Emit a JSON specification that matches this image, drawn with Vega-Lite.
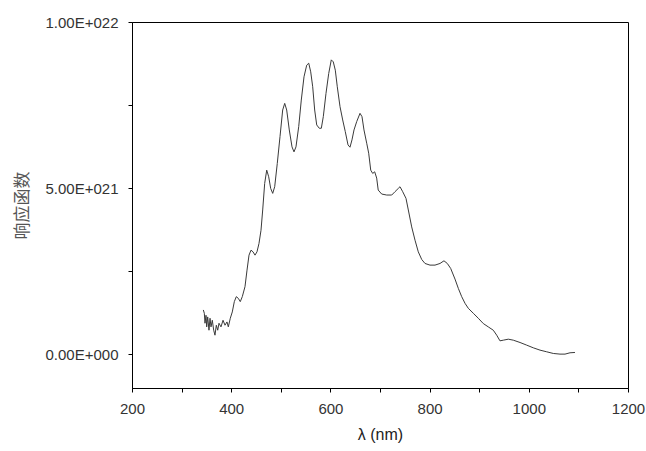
{
  "$schema": "https://vega.github.io/schema/vega-lite/v6.json",
  "width": 496,
  "height": 366,
  "autosize": {"type": "none"},
  "padding": {"left": 132, "top": 22, "right": 18, "bottom": 63},
  "background": "#ffffff",
  "config": {
    "view": {"stroke": "#000000", "strokeWidth": 1},
    "font": "Liberation Sans",
    "axis": {
      "domainColor": "#000000",
      "tickColor": "#000000",
      "tickSize": 4,
      "grid": false,
      "labelFont": "Liberation Sans",
      "labelFontSize": 15,
      "labelColor": "#333333",
      "titleFont": "Liberation Sans",
      "titleFontWeight": "normal"
    }
  },
  "data": {
    "values": [
      {"wavelength": 343.8, "response": 1.33e21},
      {"wavelength": 345.8, "response": 1.23e21},
      {"wavelength": 347.2, "response": 0.93e21},
      {"wavelength": 349.2, "response": 1.17e21},
      {"wavelength": 350.6, "response": 0.82e21},
      {"wavelength": 352.6, "response": 1.12e21},
      {"wavelength": 355.2, "response": 0.72e21},
      {"wavelength": 357.3, "response": 1.08e21},
      {"wavelength": 359.3, "response": 0.82e21},
      {"wavelength": 361.9, "response": 1.02e21},
      {"wavelength": 364.7, "response": 0.72e21},
      {"wavelength": 367.3, "response": 0.57e21},
      {"wavelength": 370.0, "response": 0.87e21},
      {"wavelength": 372.8, "response": 0.72e21},
      {"wavelength": 375.4, "response": 0.93e21},
      {"wavelength": 379.4, "response": 0.82e21},
      {"wavelength": 383.5, "response": 1.02e21},
      {"wavelength": 387.5, "response": 0.87e21},
      {"wavelength": 391.5, "response": 0.97e21},
      {"wavelength": 394.2, "response": 0.82e21},
      {"wavelength": 398.2, "response": 1.08e21},
      {"wavelength": 402.2, "response": 1.27e21},
      {"wavelength": 406.3, "response": 1.58e21},
      {"wavelength": 410.3, "response": 1.73e21},
      {"wavelength": 414.3, "response": 1.68e21},
      {"wavelength": 418.3, "response": 1.58e21},
      {"wavelength": 422.4, "response": 1.73e21},
      {"wavelength": 427.8, "response": 2.03e21},
      {"wavelength": 431.9, "response": 2.53e21},
      {"wavelength": 435.9, "response": 2.98e21},
      {"wavelength": 439.9, "response": 3.13e21},
      {"wavelength": 444.0, "response": 3.08e21},
      {"wavelength": 448.0, "response": 2.98e21},
      {"wavelength": 452.0, "response": 3.08e21},
      {"wavelength": 456.0, "response": 3.33e21},
      {"wavelength": 460.1, "response": 3.73e21},
      {"wavelength": 463.5, "response": 4.34e21},
      {"wavelength": 467.5, "response": 5.14e21},
      {"wavelength": 471.6, "response": 5.54e21},
      {"wavelength": 475.6, "response": 5.34e21},
      {"wavelength": 479.6, "response": 4.99e21},
      {"wavelength": 483.7, "response": 4.84e21},
      {"wavelength": 487.7, "response": 5.04e21},
      {"wavelength": 492.9, "response": 5.74e21},
      {"wavelength": 498.4, "response": 6.55e21},
      {"wavelength": 503.8, "response": 7.35e21},
      {"wavelength": 507.9, "response": 7.55e21},
      {"wavelength": 511.9, "response": 7.35e21},
      {"wavelength": 517.1, "response": 6.75e21},
      {"wavelength": 522.6, "response": 6.24e21},
      {"wavelength": 526.6, "response": 6.09e21},
      {"wavelength": 530.6, "response": 6.24e21},
      {"wavelength": 536.1, "response": 6.85e21},
      {"wavelength": 541.3, "response": 7.65e21},
      {"wavelength": 546.8, "response": 8.35e21},
      {"wavelength": 552.2, "response": 8.70e21},
      {"wavelength": 556.3, "response": 8.76e21},
      {"wavelength": 560.3, "response": 8.50e21},
      {"wavelength": 564.3, "response": 8.05e21},
      {"wavelength": 568.3, "response": 7.35e21},
      {"wavelength": 572.4, "response": 6.90e21},
      {"wavelength": 577.6, "response": 6.80e21},
      {"wavelength": 581.7, "response": 6.80e21},
      {"wavelength": 585.7, "response": 7.15e21},
      {"wavelength": 591.1, "response": 7.85e21},
      {"wavelength": 596.6, "response": 8.45e21},
      {"wavelength": 601.8, "response": 8.86e21},
      {"wavelength": 605.8, "response": 8.80e21},
      {"wavelength": 609.9, "response": 8.55e21},
      {"wavelength": 613.9, "response": 8.05e21},
      {"wavelength": 619.4, "response": 7.45e21},
      {"wavelength": 624.8, "response": 7.05e21},
      {"wavelength": 630.0, "response": 6.70e21},
      {"wavelength": 635.5, "response": 6.30e21},
      {"wavelength": 639.5, "response": 6.23e21},
      {"wavelength": 643.5, "response": 6.45e21},
      {"wavelength": 647.6, "response": 6.75e21},
      {"wavelength": 653.0, "response": 7.00e21},
      {"wavelength": 659.7, "response": 7.25e21},
      {"wavelength": 663.7, "response": 7.15e21},
      {"wavelength": 667.7, "response": 6.75e21},
      {"wavelength": 673.2, "response": 6.35e21},
      {"wavelength": 677.2, "response": 6.05e21},
      {"wavelength": 681.3, "response": 5.54e21},
      {"wavelength": 685.3, "response": 5.44e21},
      {"wavelength": 689.3, "response": 5.49e21},
      {"wavelength": 693.3, "response": 5.30e21},
      {"wavelength": 696.4, "response": 4.94e21},
      {"wavelength": 703.4, "response": 4.82e21},
      {"wavelength": 713.5, "response": 4.79e21},
      {"wavelength": 723.6, "response": 4.79e21},
      {"wavelength": 730.2, "response": 4.89e21},
      {"wavelength": 736.9, "response": 4.99e21},
      {"wavelength": 740.3, "response": 5.04e21},
      {"wavelength": 745.8, "response": 4.89e21},
      {"wavelength": 752.4, "response": 4.69e21},
      {"wavelength": 757.1, "response": 4.34e21},
      {"wavelength": 763.9, "response": 3.83e21},
      {"wavelength": 770.6, "response": 3.43e21},
      {"wavelength": 777.2, "response": 3.08e21},
      {"wavelength": 784.1, "response": 2.85e21},
      {"wavelength": 790.7, "response": 2.73e21},
      {"wavelength": 800.8, "response": 2.68e21},
      {"wavelength": 810.9, "response": 2.68e21},
      {"wavelength": 821.0, "response": 2.73e21},
      {"wavelength": 829.0, "response": 2.81e21},
      {"wavelength": 835.7, "response": 2.73e21},
      {"wavelength": 842.5, "response": 2.58e21},
      {"wavelength": 851.2, "response": 2.26e21},
      {"wavelength": 857.9, "response": 1.98e21},
      {"wavelength": 864.7, "response": 1.73e21},
      {"wavelength": 871.4, "response": 1.53e21},
      {"wavelength": 878.0, "response": 1.38e21},
      {"wavelength": 888.1, "response": 1.23e21},
      {"wavelength": 898.2, "response": 1.08e21},
      {"wavelength": 908.3, "response": 0.92e21},
      {"wavelength": 918.3, "response": 0.82e21},
      {"wavelength": 928.4, "response": 0.72e21},
      {"wavelength": 935.3, "response": 0.57e21},
      {"wavelength": 941.9, "response": 0.40e21},
      {"wavelength": 948.6, "response": 0.42e21},
      {"wavelength": 958.7, "response": 0.45e21},
      {"wavelength": 968.8, "response": 0.42e21},
      {"wavelength": 982.3, "response": 0.35e21},
      {"wavelength": 995.8, "response": 0.27e21},
      {"wavelength": 1009.1, "response": 0.19e21},
      {"wavelength": 1022.6, "response": 0.12e21},
      {"wavelength": 1036.1, "response": 0.07e21},
      {"wavelength": 1049.4, "response": 0.02e21},
      {"wavelength": 1062.9, "response": 0.0},
      {"wavelength": 1073.0, "response": 0.0},
      {"wavelength": 1083.1, "response": 0.04e21},
      {"wavelength": 1093.1, "response": 0.05e21}
    ]
  },
  "mark": {"type": "line", "color": "#3a3a3a", "strokeWidth": 1},
  "encoding": {
    "x": {
      "field": "wavelength",
      "type": "quantitative",
      "scale": {"domain": [200, 1200], "nice": false, "zero": false},
      "axis": {
        "title": "λ (nm)",
        "titleFontSize": 16,
        "titleColor": "#222222",
        "titlePadding": 10,
        "format": "d",
        "values": [200, 300, 400, 500, 600, 700, 800, 900, 1000, 1100, 1200],
        "labelExpr": "datum.value % 200 === 0 ? datum.label : ''",
        "labelPadding": 9,
        "labelFlush": false
      }
    },
    "y": {
      "field": "response",
      "type": "quantitative",
      "scale": {"domain": [-1.02e21, 1e22], "nice": false, "zero": false},
      "axis": {
        "title": "响应函数",
        "titleFont": "Noto Sans CJK SC",
        "titleFontSize": 17,
        "titleColor": "#555555",
        "titlePadding": 14,
        "values": [0, 2.5e21, 5e21, 7.5e21, 1e22],
        "labelExpr": "datum.value === 0 ? '0.00E+000' : datum.value === 5e21 ? '5.00E+021' : datum.value === 1e22 ? '1.00E+022' : ''",
        "labelPadding": 10,
        "labelFlush": false
      }
    }
  }
}
